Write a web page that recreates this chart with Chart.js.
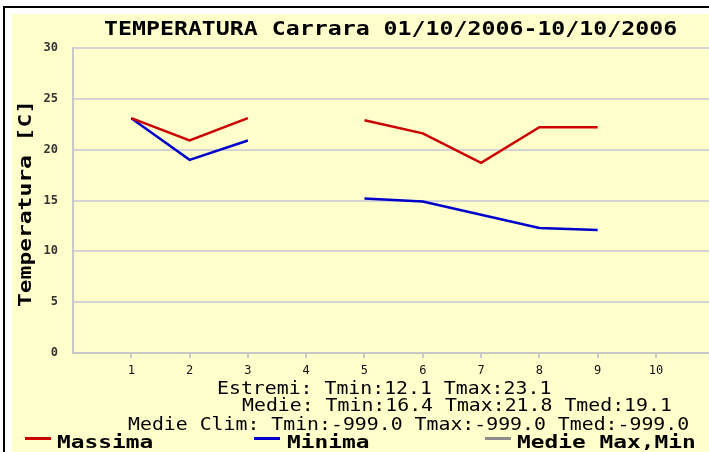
<!DOCTYPE html>
<html><head><meta charset="utf-8">
<script src="https://cdn.jsdelivr.net/npm/chart.js@4/dist/chart.umd.min.js"></script>
<style>html,body{margin:0;padding:0;background:#fff;overflow:hidden}canvas{display:block}</style>
</head><body>
<canvas id="c" width="709" height="452"></canvas>
<script>
// ---- data ----
const days = [1, 2, 3, 4, 5, 6, 7, 8, 9, 10];
const massima = [23.1, 20.9, 23.1, null, 22.9, 21.6, 18.7, 22.2, 22.2, null];
const minima = [23.1, 19.0, 20.9, null, 15.2, 14.9, 13.6, 12.3, 12.1, null];
const medieMaxMin = [null, null, null, null, null, null, null, null, null, null];
const yTicks = [0, 5, 10, 15, 20, 25, 30];
const seriesNames = ['Massima', 'Minima', 'Medie Max,Min'];
const seriesColors = ['#cc0000', '#0000cc', '#8c8c8c'];
const chartTitle = 'TEMPERATURA Carrara 01/10/2006-10/10/2006';
const yTitle = 'Temperatura [C]';
const footerLines = [
  'Estremi: Tmin:12.1 Tmax:23.1',
  'Medie: Tmin:16.4 Tmax:21.8 Tmed:19.1',
  'Medie Clim: Tmin:-999.0 Tmax:-999.0 Tmed:-999.0'
];

const MONO = '"DejaVu Sans Mono", monospace';

function drawScaled(ctx, text, x, y, font, advance, color) {
  ctx.save();
  ctx.font = font;
  ctx.fillStyle = color;
  ctx.textAlign = 'left';
  ctx.textBaseline = 'alphabetic';
  const natural = ctx.measureText(text).width / text.length;
  ctx.translate(x, y);
  ctx.scale(advance / natural, 1);
  ctx.fillText(text, 0, 0);
  ctx.restore();
}

const decor = {
  id: 'decor',
  beforeDraw(chart) {
    const ctx = chart.ctx;
    ctx.save();
    ctx.fillStyle = '#ffffff';
    ctx.fillRect(0, 0, 709, 452);
    ctx.fillStyle = '#000000';
    ctx.fillRect(3, 6, 706, 2);
    ctx.fillRect(3, 6, 2, 446);
    ctx.fillStyle = '#ffffcc';
    ctx.fillRect(12, 14, 697, 438);
    ctx.restore();
  },
  afterDraw(chart) {
    const ctx = chart.ctx;
    // title
    drawScaled(ctx, chartTitle, 104, 35, 'bold 19px ' + MONO, 13.98, '#000');
    // y title
    ctx.save();
    ctx.translate(31, 307);
    ctx.rotate(-Math.PI / 2);
    drawScaled(ctx, yTitle, 0, 0, 'bold 17px ' + MONO, 13.8, '#000');
    ctx.restore();
    // footer statistics
    const fx = [217, 242, 128], fy = [394, 411, 430];
    footerLines.forEach((t, i) => drawScaled(ctx, t, fx[i], fy[i], '18px ' + MONO, 11.94, '#000'));
    // legend
    const sx = [25, 254, 485], tx = [57, 287, 517];
    seriesNames.forEach((n, i) => {
      ctx.save();
      ctx.fillStyle = seriesColors[i];
      ctx.fillRect(sx[i], 437, 26, 3);
      ctx.restore();
      drawScaled(ctx, n, tx[i], 448, 'bold 18px ' + MONO, 13.75, '#000');
    });
  }
};

const toPts = arr => days.map((d, i) => ({ x: d, y: arr[i] }));

new Chart(document.getElementById('c'), {
  type: 'line',
  data: {
    datasets: [
      { label: seriesNames[0], data: toPts(massima), borderColor: seriesColors[0], borderWidth: 2.5 },
      { label: seriesNames[1], data: toPts(minima), borderColor: seriesColors[1], borderWidth: 2.5 },
      { label: seriesNames[2], data: toPts(medieMaxMin), borderColor: seriesColors[2], borderWidth: 2.5 }
    ]
  },
  options: {
    responsive: false,
    animation: false,
    devicePixelRatio: 1,
    spanGaps: false,
    elements: { point: { radius: 0 }, line: { tension: 0, fill: false } },
    layout: { padding: { top: 48, left: 0, right: 0, bottom: 0 } },
    plugins: { legend: { display: false }, title: { display: false }, tooltip: { enabled: false } },
    scales: {
      x: {
        type: 'linear', min: 0, max: 10.91,
        afterBuildTicks: s => { s.ticks = days.map(v => ({ value: v })); },
        afterFit: s => { s.height = 99; },
        grid: { drawOnChartArea: false, drawTicks: true, tickLength: 5, color: '#c8c8c8', lineWidth: 2 },
        border: { color: '#c8c8c8', width: 2 },
        ticks: { padding: 6, color: '#111', autoSkip: false, maxRotation: 0,
                 font: { family: MONO, size: 12 }, callback: v => String(v) }
      },
      y: {
        min: 0, max: 30,
        afterBuildTicks: s => { s.ticks = yTicks.map(v => ({ value: v })); },
        afterFit: s => { s.width = 73; },
        grid: { color: '#d4d4d4', lineWidth: 2, drawTicks: false },
        border: { color: '#c8c8c8', width: 2 },
        ticks: { padding: 15, color: '#333', font: { family: MONO, size: 12, weight: 'bold' } }
      }
    }
  },
  plugins: [decor]
});
</script>
</body></html>
